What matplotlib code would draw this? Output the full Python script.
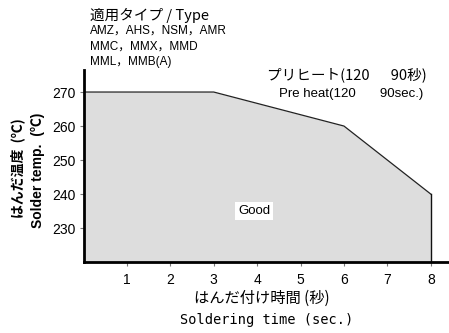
"""
Soldering profile: allowed region of solder temperature vs. soldering time.
"""
import matplotlib
matplotlib.use('Agg')
import matplotlib.pyplot as plt
from matplotlib import font_manager

# Profile boundary (time in sec, temperature in deg C)
times = [0, 3, 6, 8]
temps = [270, 270, 260, 240]
temp_floor = 220

x_ticks = [1, 2, 3, 4, 5, 6, 7, 8]
y_ticks = [230, 240, 250, 260, 270]

type_lines = ['AMZ，AHS，NSM，AMR', 'MMC，MMX，MMD', 'MML，MMB(A)']

# Narrow face for the type list, if there is one
names = {f.name for f in font_manager.fontManager.ttflist}
has_narrow = 'Liberation Sans Narrow' in names

jp = ['Noto Sans CJK JP', 'DejaVu Sans']
latin = ['Liberation Sans', 'Noto Sans CJK JP', 'DejaVu Sans']
narrow = (['Liberation Sans Narrow'] if has_narrow else []) + latin
type_size = 10 if has_narrow else 8.5

fig = plt.figure(figsize=(4.49, 3.33), dpi=100)
ax = fig.add_axes([0.186, 0.213, 0.814, 0.577])

# Good region
ax.fill_between(times, temps, temp_floor, color='#dddddd', linewidth=0)
ax.plot(times, temps, color='#222222', linewidth=0.9)
ax.plot([times[-1], times[-1]], [temps[-1], temp_floor], color='#111111',
        linewidth=1.0)

ax.set_xlim(0, 8.42)
ax.set_ylim(temp_floor, 276.5)
ax.set_xticks(x_ticks)
ax.set_yticks(y_ticks)
ax.set_xticklabels([str(t) for t in x_ticks], family=latin, fontsize=10)
ax.set_yticklabels([str(t) for t in y_ticks], family=latin, fontsize=10)
ax.tick_params(axis='both', direction='out', length=3, width=0.8,
               color='#777777', pad=3)
ax.tick_params(axis='x', pad=5)

for side in ['top', 'right']:
    ax.spines[side].set_visible(False)
for side in ['left', 'bottom']:
    ax.spines[side].set_linewidth(2.0)
    ax.spines[side].set_color('black')

ax.text(3.93, 235, 'Good', family=latin, fontsize=9.5, ha='center',
        va='center', bbox=dict(facecolor='white', edgecolor='none', pad=2))

# Header: applicable types
fig.text(90 / 449, 1 - 15 / 333, '適用タイプ / Type', family=jp, fontsize=10.5,
         va='center', ha='left')
for i, line in enumerate(type_lines):
    fig.text(90 / 449, 1 - (31 + i * 15.5) / 333, line, family=narrow,
             fontsize=type_size, va='center', ha='left')

# Pre-heat note
fig.text(267 / 449, 1 - 75 / 333, 'プリヒート(120\u3000  90秒)', family=jp,
         fontsize=10.5, va='center', ha='left')
fig.text(279 / 449, 1 - 94 / 333, 'Pre heat(120\u2003   90sec.)',
         family=latin, fontsize=9.5, va='center', ha='left')

# Axis titles
fig.text(18 / 449, 1 - 168 / 333, 'はんだ温度  (℃)', family=jp, fontsize=10,
         fontweight='bold', rotation=90, va='center', ha='center')
fig.text(38 / 449, 1 - 170 / 333, 'Solder temp.  (℃)', family=latin,
         fontsize=10, fontweight='bold', rotation=90, va='center', ha='center')
fig.text(262 / 449, 1 - 298 / 333, 'はんだ付け時間 (秒)', family=jp, fontsize=11,
         va='center', ha='center')
fig.text(267 / 449, 1 - 320 / 333, 'Soldering time (sec.)',
         family=['DejaVu Sans Mono'], fontsize=9.8, va='center', ha='center')

fig.savefig('out.png', dpi=100)
